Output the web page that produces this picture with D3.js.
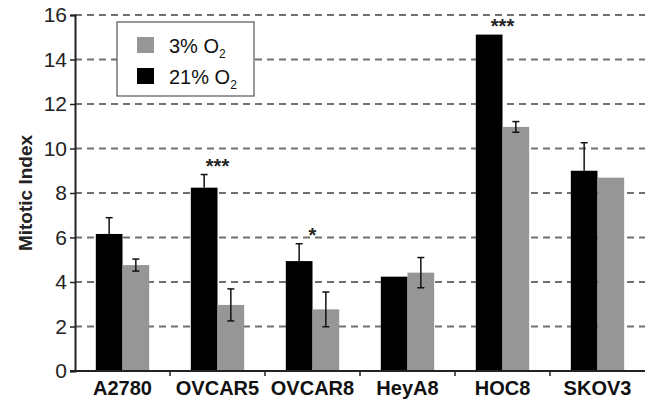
<!DOCTYPE html>
<html>
<head>
<meta charset="utf-8">
<script src="https://cdn.jsdelivr.net/npm/d3@7"></script>
<style>
  body { margin: 0; background: #fff; }
  text { font-family: "Liberation Sans", Arial, sans-serif; }
</style>
</head>
<body>
<div id="chart"></div>
<script>
// cell lines on the x axis
const cellLines = ["A2780", "OVCAR5", "OVCAR8", "HeyA8", "HOC8", "SKOV3"];
// 21% O2 (black) and 3% O2 (gray) mitotic index, with error (half-length)
const normoxia = [6.16, 8.24, 4.94, 4.24, 15.12, 9.0];
const normoxiaErr = [0.73, 0.59, 0.78, 0, 0, 1.26];
const hypoxia = [4.76, 2.97, 2.77, 4.42, 10.97, 8.69];
const hypoxiaErr = [0.27, 0.72, 0.78, 0.68, 0.24, 0];
const stars = ["", "***", "*", "", "***", ""];
const yTicks = [0, 2, 4, 6, 8, 10, 12, 14, 16];

const width = 650, height = 400;
const margin = { top: 15, right: 5, bottom: 29, left: 75 };

const svg = d3.select("#chart").append("svg")
  .attr("width", width)
  .attr("height", height);

const x0 = d3.scaleBand()
  .domain(cellLines)
  .range([margin.left, width - margin.right])
  .padding(0);

const x1 = d3.scaleBand()
  .domain(["21", "3"])
  .range([0, x0.bandwidth()])
  .paddingInner(0)
  .paddingOuter(0.78);

const y = d3.scaleLinear()
  .domain([0, 16])
  .range([height - margin.bottom, margin.top]);

// dashed grid lines
svg.append("g")
  .selectAll("line")
  .data(yTicks.filter(d => d > 0))
  .join("line")
  .attr("x1", margin.left)
  .attr("x2", width - margin.right)
  .attr("y1", d => y(d))
  .attr("y2", d => y(d))
  .attr("stroke", "#707070")
  .attr("stroke-width", 2)
  .attr("stroke-dasharray", "7,5");

// build rows so each bar carries its own colour and error
const rows = cellLines.map((c, i) => ({
  cat: c,
  star: stars[i],
  bars: [
    { key: "21", value: normoxia[i], err: normoxiaErr[i], fill: "#000" },
    { key: "3", value: hypoxia[i], err: hypoxiaErr[i], fill: "#969696" }
  ]
}));

const groups = svg.append("g")
  .selectAll("g")
  .data(rows)
  .join("g")
  .attr("transform", d => "translate(" + x0(d.cat) + ",0)");

groups.selectAll("rect")
  .data(d => d.bars)
  .join("rect")
  .attr("x", d => x1(d.key))
  .attr("y", d => y(d.value))
  .attr("width", x1.bandwidth())
  .attr("height", d => y(0) - y(d.value))
  .attr("fill", d => d.fill);

// error bars (black bars only show the upper half)
groups.selectAll("g.err")
  .data(d => d.bars.filter(b => b.err > 0))
  .join("g")
  .attr("class", "err")
  .each(function (d) {
    const g = d3.select(this);
    const cx = x1(d.key) + x1.bandwidth() / 2;
    const lo = d.key === "21" ? d.value : d.value - d.err;
    const hi = d.value + d.err;
    g.append("line")
      .attr("x1", cx).attr("x2", cx)
      .attr("y1", y(lo)).attr("y2", y(hi))
      .attr("stroke", "#111").attr("stroke-width", 1.5);
    g.append("line")
      .attr("x1", cx - 3.5).attr("x2", cx + 3.5)
      .attr("y1", y(hi)).attr("y2", y(hi))
      .attr("stroke", "#111").attr("stroke-width", 1.5);
    if (d.key === "3") {
      g.append("line")
        .attr("x1", cx - 3.5).attr("x2", cx + 3.5)
        .attr("y1", y(lo)).attr("y2", y(lo))
        .attr("stroke", "#111").attr("stroke-width", 1.5);
    }
  });

// significance stars
groups.filter(d => d.star !== "")
  .append("text")
  .attr("x", x0.bandwidth() / 2)
  .attr("y", d => y(d3.max(d.bars, b => b.value + b.err)) - 2)
  .attr("text-anchor", "middle")
  .attr("font-size", 20)
  .attr("font-weight", "bold")
  .attr("fill", "#222")
  .text(d => d.star);

// y axis
const yAxis = svg.append("g")
  .attr("transform", "translate(" + margin.left + ",0)")
  .call(d3.axisLeft(y).tickValues(yTicks).tickSize(5).tickPadding(3));
yAxis.select(".domain").attr("stroke", "#222").attr("stroke-width", 2);
yAxis.selectAll(".tick line").attr("stroke", "#222").attr("stroke-width", 1.5);
yAxis.selectAll(".tick text")
  .attr("font-size", 21)
  .attr("font-family", "Liberation Sans, Arial, sans-serif")
  .attr("fill", "#222");

// x axis with ticks between categories
const xAxisG = svg.append("g")
  .attr("transform", "translate(0," + y(0) + ")");
xAxisG.append("line")
  .attr("x1", margin.left - 5).attr("x2", width - margin.right)
  .attr("stroke", "#222").attr("stroke-width", 2);
xAxisG.selectAll("line.tk")
  .data(cellLines.slice(1))
  .join("line")
  .attr("class", "tk")
  .attr("x1", d => x0(d)).attr("x2", d => x0(d))
  .attr("y1", 0).attr("y2", 5)
  .attr("stroke", "#222").attr("stroke-width", 1.5);
xAxisG.selectAll("text")
  .data(cellLines)
  .join("text")
  .attr("x", d => x0(d) + x0.bandwidth() / 2)
  .attr("y", 24)
  .attr("text-anchor", "middle")
  .attr("font-size", 20)
  .attr("font-weight", "bold")
  .attr("fill", "#111")
  .text(d => d);

// y axis title
svg.append("text")
  .attr("transform", "translate(32," + 193 + ") rotate(-90)")
  .attr("text-anchor", "middle")
  .attr("font-size", 19)
  .attr("font-weight", "bold")
  .attr("fill", "#222")
  .text("Mitotic Index");

// legend
const legendItems = [
  { label: "3% O", fill: "#969696" },
  { label: "21% O", fill: "#000" }
];
const legend = svg.append("g").attr("transform", "translate(117,22)");
legend.append("rect")
  .attr("width", 137).attr("height", 74)
  .attr("fill", "#fff")
  .attr("stroke", "#555").attr("stroke-width", 1.2);
const li = legend.selectAll("g.item")
  .data(legendItems)
  .join("g")
  .attr("class", "item")
  .attr("transform", (d, i) => "translate(20," + (15 + i * 31) + ")");
li.append("rect")
  .attr("width", 17).attr("height", 16)
  .attr("fill", d => d.fill);
const lt = li.append("text")
  .attr("x", 32).attr("y", 16)
  .attr("font-size", 20)
  .attr("fill", "#111");
lt.append("tspan").text(d => d.label);
lt.append("tspan")
  .attr("font-size", 12)
  .attr("dy", 5)
  .text("2");
</script>
</body>
</html>
